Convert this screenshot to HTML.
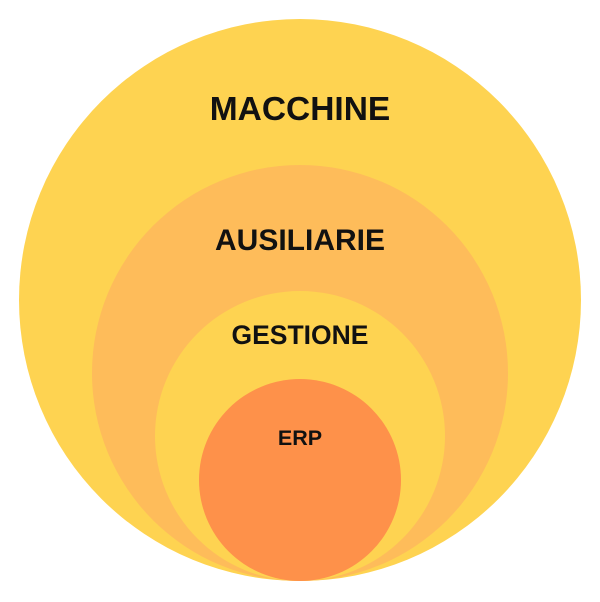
<!DOCTYPE html>
<html><head><style>
body{margin:0;background:#fff;width:600px;height:602px;overflow:hidden}
</style></head><body>
<svg width="600" height="602" xmlns="http://www.w3.org/2000/svg" style="display:block">
<circle cx="300" cy="300" r="281" fill="#FED351"/>
<circle cx="300" cy="373" r="208" fill="#FEBC5A"/>
<circle cx="300" cy="436" r="145" fill="#FED351"/>
<circle cx="300" cy="480" r="101" fill="#FE914A"/>
<g font-family="Liberation Sans, sans-serif" font-weight="bold" text-anchor="middle" fill="#111">
<text x="300" y="120" font-size="33.5">MACCHINE</text>
<text x="300" y="250" font-size="30">AUSILIARIE</text>
<text x="300" y="344" font-size="26.5">GESTIONE</text>
<text x="300" y="445" font-size="21.5">ERP</text>
</g>
</svg>
</body></html>
